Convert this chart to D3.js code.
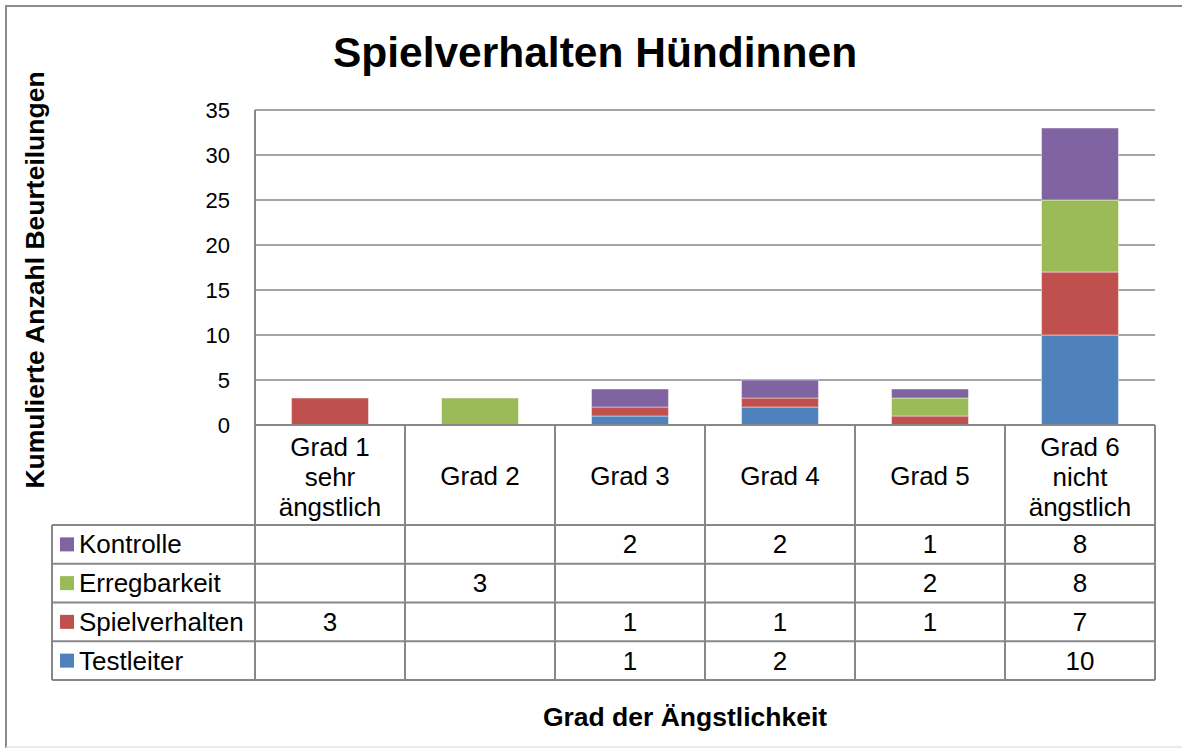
<!DOCTYPE html>
<html><head><meta charset="utf-8">
<script src="https://cdn.jsdelivr.net/npm/d3@7"></script>
<style>html,body{margin:0;padding:0;background:#fff;overflow:hidden;} svg{display:block;}</style>
</head><body>
<script>
const categories = ["Grad 1 sehr ängstlich","Grad 2","Grad 3","Grad 4","Grad 5","Grad 6 nicht ängstlich"];
const categoryLines = [["Grad 1","sehr","ängstlich"],["Grad 2"],["Grad 3"],["Grad 4"],["Grad 5"],["Grad 6","nicht","ängstlich"]];
const seriesNames = ["Testleiter","Spielverhalten","Erregbarkeit","Kontrolle"];
const testleiter     = [null,null,1,2,null,10];
const spielverhalten = [3,null,1,1,1,7];
const erregbarkeit   = [null,3,null,null,2,8];
const kontrolle      = [null,null,2,2,1,8];
const yTicks = [0,5,10,15,20,25,30,35];
const colors = ["#4F81BD","#C0504D","#9BBB59","#8064A2"];
const title = "Spielverhalten Hündinnen";
const yTitle = "Kumulierte Anzahl Beurteilungen";
const xTitle = "Grad der Ängstlichkeit";

const seriesValues = [testleiter, spielverhalten, erregbarkeit, kontrolle];
const W = 1182, H = 748;
const plotL = 255, plotR = 1155, plotT = 110, plotB = 425;
const tableL = 52, headerB = 525, rowH = 38.75;
const grid = "#878787";
const font = "'Liberation Sans', Arial, sans-serif";
const tFont = 26;

const svg = d3.select("body").append("svg").attr("width", W).attr("height", H);

// outer frame (top, left, bottom; right edge lies outside the picture)
svg.append("line").attr("x1",6).attr("x2",W).attr("y1",6).attr("y2",6).attr("stroke","#8c8c8c").attr("stroke-width",2);
svg.append("line").attr("x1",6).attr("x2",6).attr("y1",5).attr("y2",748).attr("stroke","#8c8c8c").attr("stroke-width",2);
svg.append("line").attr("x1",6).attr("x2",W).attr("y1",747).attr("y2",747).attr("stroke","#e4e4e4").attr("stroke-width",1.5);

const x = d3.scaleBand().domain(categories).range([plotL, plotR]).paddingInner(0.487).paddingOuter(0.2435);
const xCol = d3.scaleBand().domain(categories).range([plotL, plotR]).padding(0);
const y = d3.scaleLinear().domain([0,35]).range([plotB, plotT]);

// y axis labels
const yAxis = d3.axisLeft(y).tickValues(yTicks).tickSize(0).tickPadding(0).tickFormat(d3.format("d"));
const gAxis = svg.append("g").attr("transform",`translate(${plotL},0)`).call(yAxis);
gAxis.select(".domain").remove();
gAxis.selectAll("text").attr("x",-25).attr("dy","0.35em").attr("font-family",font).attr("font-size",22).attr("fill","#000");
// gridlines
svg.append("g").selectAll("line").data(yTicks.filter(d=>d>0)).join("line")
  .attr("x1",plotL).attr("x2",plotR).attr("y1",d=>y(d)).attr("y2",d=>y(d))
  .attr("stroke",grid).attr("stroke-width",1.6);
svg.append("line").attr("x1",plotL).attr("x2",plotL).attr("y1",y(35)).attr("y2",plotB).attr("stroke",grid).attr("stroke-width",2);

// stacked bars
const rows = categories.map((c,i)=>{const o={cat:c}; seriesNames.forEach((s,j)=>o[s]=seriesValues[j][i]||0); return o;});
const stack = d3.stack().keys(seriesNames)(rows);
stack.forEach((layer,j)=>{
  svg.append("g").selectAll("rect").data(layer.filter(d=>d[1]-d[0]>0)).join("rect")
    .attr("x",d=>x(d.data.cat)).attr("width",x.bandwidth())
    .attr("y",d=>y(d[1])).attr("height",d=>y(d[0])-y(d[1]))
    .attr("fill",colors[j]).attr("stroke","rgba(255,255,255,0.45)").attr("stroke-width",1);
});

// data table
const tg = svg.append("g");
const lineAttr = sel => sel.attr("stroke",grid).attr("stroke-width",2);
tg.append("line").attr("x1",plotL).attr("x2",plotR).attr("y1",plotB).attr("y2",plotB).call(lineAttr);
const rowYs = d3.range(5).map(i=>headerB + i*rowH);
rowYs.forEach(yy=>tg.append("line").attr("x1",tableL).attr("x2",plotR).attr("y1",yy).attr("y2",yy).call(lineAttr));
tg.append("line").attr("x1",tableL).attr("x2",tableL).attr("y1",headerB).attr("y2",rowYs[4]).call(lineAttr);
categories.forEach(c=>tg.append("line").attr("x1",xCol(c)).attr("x2",xCol(c)).attr("y1",plotB).attr("y2",rowYs[4]).call(lineAttr));
tg.append("line").attr("x1",plotR).attr("x2",plotR).attr("y1",plotB).attr("y2",rowYs[4]).call(lineAttr);

// header text
categories.forEach((c,i)=>{
  const lines = categoryLines[i];
  const cx = xCol(c) + xCol.bandwidth()/2;
  const base0 = lines.length===1 ? 485 : 455.5;
  lines.forEach((t,k)=>tg.append("text").attr("x",cx).attr("y",base0+k*30).attr("text-anchor","middle")
    .attr("font-family",font).attr("font-size",tFont).attr("fill","#000").text(t));
});

// legend rows (top: Kontrolle ... bottom: Testleiter)
const displayOrder = [3,2,1,0];
displayOrder.forEach((j,r)=>{
  const cy = rowYs[r] + rowH/2;
  tg.append("rect").attr("x",60).attr("y",cy-7).attr("width",14).attr("height",14).attr("fill",colors[j]);
  tg.append("text").attr("x",79).attr("y",cy+9).attr("font-family",font).attr("font-size",tFont).attr("fill","#000").text(seriesNames[j]);
  categories.forEach((c,i)=>{
    const v = seriesValues[j][i];
    if(v==null) return;
    tg.append("text").attr("x",xCol(c)+xCol.bandwidth()/2).attr("y",cy+9).attr("text-anchor","middle")
      .attr("font-family",font).attr("font-size",tFont).attr("fill","#000").text(v);
  });
});

// titles
svg.append("text").attr("x",595).attr("y",67).attr("text-anchor","middle")
  .attr("font-family",font).attr("font-weight","bold").attr("font-size",42.5).attr("fill","#000").text(title);
svg.append("text").attr("x",685).attr("y",726).attr("text-anchor","middle")
  .attr("font-family",font).attr("font-weight","bold").attr("font-size",26.5).attr("fill","#000").text(xTitle);
svg.append("text").attr("transform","translate(44,280) rotate(-90)").attr("text-anchor","middle")
  .attr("font-family",font).attr("font-weight","bold").attr("font-size",26.5).attr("fill","#000").text(yTitle);
</script>
</body></html>
